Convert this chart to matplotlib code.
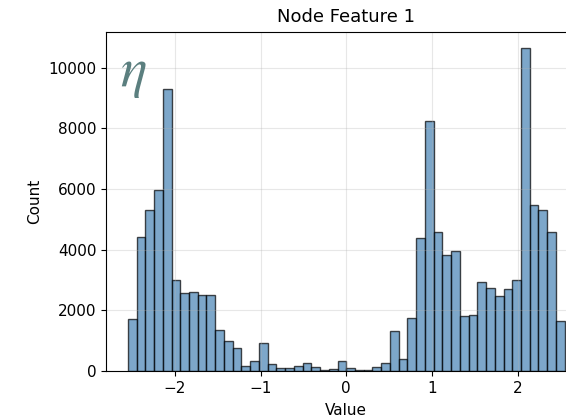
import numpy as np
import matplotlib
matplotlib.use("Agg")
import matplotlib.pyplot as plt

# histogram counts (50 equal bins)
counts = [1700, 4420, 5300, 5950, 9280, 2990, 2560, 2600, 2510, 2510,
          1360, 1000, 750, 170, 320, 930, 220, 110, 100, 165,
          250, 120, 35, 55, 340, 110, 40, 20, 120, 275,
          1320, 385, 1755, 4375, 8230, 4570, 3810, 3970, 1810, 1840,
          2920, 2750, 2480, 2710, 2990, 10640, 5470, 5320, 4590, 1650]
x_min, x_max = -2.55, 2.55

edges = np.linspace(x_min, x_max, len(counts) + 1)

fig = plt.figure(figsize=(5.66, 4.19), dpi=100)
ax = fig.add_axes([106 / 566, 48 / 419, 480.5 / 566, 339 / 419])

ax.hist(edges[:-1], bins=edges, weights=counts, color='steelblue',
        alpha=0.7, edgecolor='black')
ax.grid(True, alpha=0.3)
ax.set_title('Node Feature 1', fontsize=13, pad=7)
ax.set_xlabel('Value', fontsize=11, labelpad=5)
ax.set_ylabel('Count', fontsize=11)
ax.tick_params(labelsize=11)

# eta glyph in the top-left corner
ax.text(0.03, 0.96, r'$\eta$', transform=ax.transAxes, fontsize=40,
        color='#5b7f7f', va='top', ha='left', math_fontfamily='stix')

fig.savefig('out.png', dpi=100)
